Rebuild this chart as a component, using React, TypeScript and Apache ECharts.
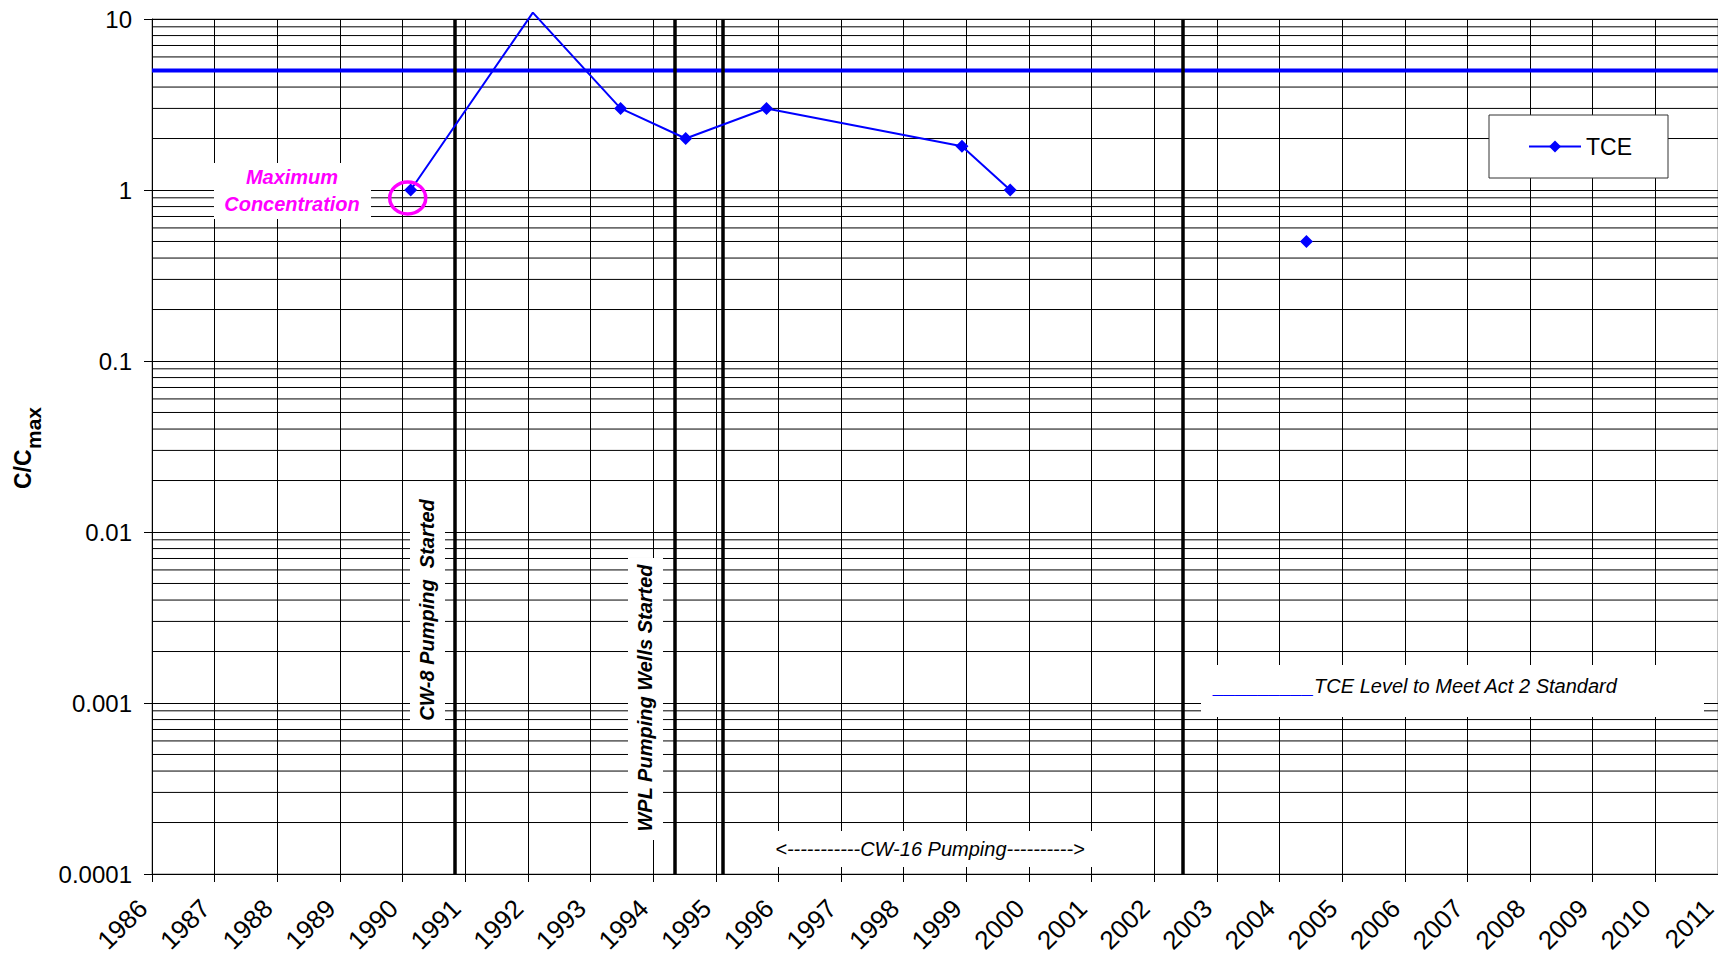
import React, { useEffect, useRef } from 'react';
import * as echarts from 'echarts';

// ---- data ----
const X_MIN = 1986;
const X_MAX = 2011;
const TCE_DATES = [1990.13, 1992.08, 1993.48, 1994.52, 1995.81, 1998.93, 1999.7, 2002.0, 2004.43];
const TCE_VALUES: (number | null)[] = [1, 10.9, 3, 2, 3, 1.8, 1, null, 0.5];
const PEAK_INDEX = 1; // point above the plot top: marker not shown
const STANDARD_DATES = [1986, 2011];
const STANDARD_VALUES = [5, 5];
const EVENT_DATES = [1990.84, 1994.34, 1995.11, 2002.45];
const Y_TICK_LABELS = ['0.0001', '0.001', '0.01', '0.1', '1', '10'];
const DECADES = [0.0001, 0.001, 0.01, 0.1, 1];
const MINOR_MULTIPLIERS = [2, 3, 4, 5, 6, 7, 8, 9];
const MAX_POINT_INDEX = 0;

const FONT = "'Liberation Sans', Arial, Helvetica, sans-serif";

export default function App() {
  const ref = useRef<HTMLDivElement>(null);

  useEffect(() => {
    document.body.style.margin = '0';
    document.body.style.overflow = 'hidden';
    const chart = echarts.init(ref.current!, null, { renderer: 'svg' });

    const tceData = TCE_DATES.map((d, i) => {
      const v = TCE_VALUES[i];
      const item: any = { value: [d, v === null ? '-' : v] };
      if (i === PEAK_INDEX) item.symbol = 'none';
      return item;
    });
    const stdData = STANDARD_DATES.map((d, i) => [d, STANDARD_VALUES[i]]);
    const minorData: number[][] = [];
    DECADES.forEach((d) => MINOR_MULTIPLIERS.forEach((m) => minorData.push([X_MIN, d * m])));
    const eventLines = EVENT_DATES.map((d) => ({ xAxis: d }));

    const textBox = (x: number, y: number, w: number, h: number) => ({
      type: 'rect',
      z: 100,
      shape: { x, y, width: w, height: h },
      style: { fill: '#ffffff' },
      silent: true,
    });

    const option: any = {
      animation: false,
      backgroundColor: '#ffffff',
      grid: {
        left: 152,
        top: 19,
        right: 0,
        bottom: 86,
        outerBoundsMode: 'none',
        containLabel: false,
        show: true,
        borderColor: '#888888',
        borderWidth: 1,
        backgroundColor: 'transparent',
      },
      legend: {
        data: ['TCE'],
        left: 1489,
        top: 115,
        orient: 'horizontal',
        padding: [20, 36, 20, 39],
        itemWidth: 52,
        itemHeight: 15,
        backgroundColor: '#ffffff',
        borderColor: '#333333',
        borderWidth: 1,
        textStyle: { fontFamily: FONT, fontSize: 23, color: '#000' },
        z: 20,
      },
      xAxis: {
        type: 'value',
        min: X_MIN,
        max: X_MAX,
        interval: 1,
        axisLine: { show: true, onZero: false, lineStyle: { color: '#000', width: 1 } },
        axisTick: { show: true, length: 8, lineStyle: { color: '#000' } },
        axisLabel: {
          rotate: 45,
          margin: 39,
          verticalAlign: 'bottom',
          fontFamily: FONT,
          fontSize: 26,
          color: '#000',
          showMaxLabel: true,
          showMinLabel: true,
          hideOverlap: false,
          formatter: (v: number) => String(Math.round(v)),
        },
        splitLine: { show: true, lineStyle: { color: '#000', width: 1 } },
      },
      yAxis: {
        type: 'log',
        logBase: 10,
        min: 0.0001,
        max: 10,
        axisLine: { show: true, lineStyle: { color: '#000', width: 1 } },
        axisTick: { show: true, length: 8, lineStyle: { color: '#000' } },
        axisLabel: {
          margin: 20,
          fontFamily: FONT,
          fontSize: 24,
          color: '#000',
          formatter: (v: number) => {
            const idx = Math.round(Math.log10(v)) + 4;
            return Y_TICK_LABELS[idx] ?? '';
          },
        },
        splitLine: { show: true, lineStyle: { color: '#000', width: 1 } },
      },
      series: [
        {
          name: 'minorGrid',
          type: 'custom',
          data: minorData,
          silent: true,
          z: 1,
          encode: { x: 0, y: 1 },
          renderItem: (params: any, api: any) => {
            const y = api.coord([api.value(0), api.value(1)])[1];
            const cs = params.coordSys;
            return {
              type: 'line',
              shape: { x1: cs.x, y1: y, x2: cs.x + cs.width, y2: y },
              style: { stroke: '#000', lineWidth: 1 },
              silent: true,
            };
          },
        },
        {
          name: 'events',
          type: 'line',
          data: stdData,
          symbol: 'none',
          lineStyle: { opacity: 0 },
          silent: true,
          z: 3,
          markLine: {
            silent: true,
            symbol: ['none', 'none'],
            label: { show: false },
            lineStyle: { color: '#000', width: 3.5, type: 'solid' },
            data: eventLines,
          },
        },
        {
          name: 'TCE Level to Meet Act 2 Standard',
          type: 'line',
          data: stdData,
          symbol: 'none',
          lineStyle: { color: '#0000ff', width: 4 },
          itemStyle: { color: '#0000ff' },
          z: 4,
          silent: true,
        },
        {
          name: 'TCE',
          type: 'line',
          data: tceData,
          symbol: 'diamond',
          symbolSize: 13,
          connectNulls: false,
          clip: false,
          lineStyle: { color: '#0000ff', width: 2 },
          itemStyle: { color: '#0000ff' },
          z: 5,
        },
      ],
      graphic: [
        // Y-axis title
        {
          type: 'group',
          x: 23,
          y: 489,
          rotation: Math.PI / 2,
          z: 100,
          children: [
            {
              type: 'text',
              x: 0,
              y: 0,
              style: { text: 'C/C', font: `bold 23px ${FONT}`, fill: '#000', textAlign: 'left', textVerticalAlign: 'middle' },
            },
            {
              type: 'text',
              x: 40,
              y: 10,
              style: { text: 'max', font: `bold 21px ${FONT}`, fill: '#000', textAlign: 'left', textVerticalAlign: 'middle' },
            },
          ],
        },
        // Maximum Concentration
        textBox(214, 163, 157, 56),
        {
          type: 'text',
          z: 101,
          x: 292,
          y: 177,
          style: { text: 'Maximum', font: `italic bold 20px ${FONT}`, fill: '#ff00ff', textAlign: 'center', textVerticalAlign: 'middle' },
        },
        {
          type: 'text',
          z: 101,
          x: 292,
          y: 204,
          style: { text: 'Concentration', font: `italic bold 20px ${FONT}`, fill: '#ff00ff', textAlign: 'center', textVerticalAlign: 'middle' },
        },
        // CW-8
        textBox(410, 495, 35, 230),
        {
          type: 'text',
          z: 101,
          x: 427,
          y: 610,
          rotation: Math.PI / 2,
          style: { text: 'CW-8 Pumping  Started', font: `italic bold 20px ${FONT}`, fill: '#000', textAlign: 'center', textVerticalAlign: 'middle' },
        },
        // WPL
        textBox(628, 558, 35, 282),
        {
          type: 'text',
          z: 101,
          x: 645,
          y: 698,
          rotation: Math.PI / 2,
          style: { text: 'WPL Pumping Wells Started', font: `italic bold 20px ${FONT}`, fill: '#000', textAlign: 'center', textVerticalAlign: 'middle' },
        },
        // CW-16
        textBox(770, 831, 325, 36),
        {
          type: 'text',
          z: 101,
          x: 930,
          y: 849,
          style: { text: '<-----------CW-16 Pumping---------->', font: `italic 20px ${FONT}`, fill: '#000', textAlign: 'center', textVerticalAlign: 'middle' },
        },
        // Standard label
        textBox(1201, 665, 503, 52),
        {
          type: 'text',
          z: 101,
          x: 1214,
          y: 686,
          style: {
            text: '{u|_________}{t|TCE Level to Meet Act 2 Standard}',
            textAlign: 'left',
            textVerticalAlign: 'middle',
            rich: {
              u: { font: `italic 20px ${FONT}`, fill: '#0000ff', color: '#0000ff' },
              t: { font: `italic 20px ${FONT}`, fill: '#000', color: '#000' },
            },
          },
        },
      ],
    };

    chart.setOption(option);

    // ring around the maximum-concentration point
    const p = chart.convertToPixel({ gridIndex: 0 }, [TCE_DATES[MAX_POINT_INDEX], TCE_VALUES[MAX_POINT_INDEX] as number]);
    if (p) {
      chart.setOption({
        graphic: [
          ...option.graphic,
          {
            type: 'ellipse',
            z: 102,
            shape: { cx: p[0] - 3, cy: p[1] + 8, rx: 18, ry: 16 },
            style: { fill: 'none', stroke: '#ff00ff', lineWidth: 3.5 },
            silent: true,
          },
        ],
      });
    }

    return () => chart.dispose();
  }, []);

  return <div ref={ref} style={{ width: 1718, height: 960 }} />;
}
